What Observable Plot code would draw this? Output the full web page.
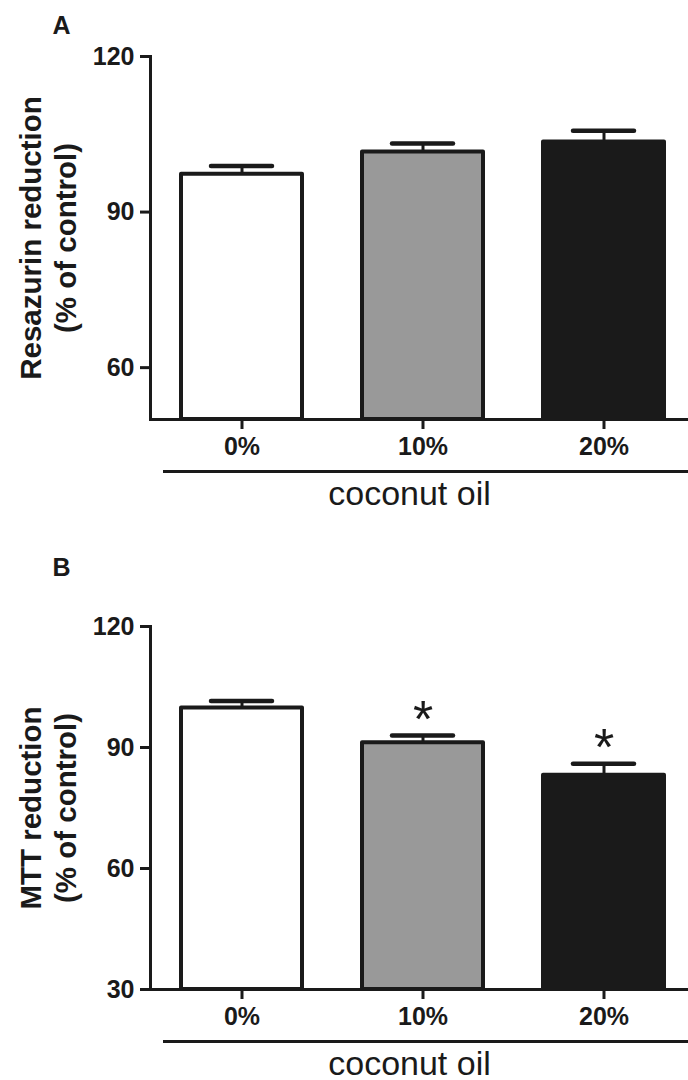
<!DOCTYPE html>
<html><head><meta charset="utf-8">
<script src="https://cdn.jsdelivr.net/npm/d3@7"></script>
<script src="https://cdn.jsdelivr.net/npm/@observablehq/plot@0.6"></script>
<style>body{margin:0;background:#fff} #chart svg{display:block}</style>
</head><body><div id="chart"></div>
<script>
// ---- data ----
const groups = ["0%", "10%", "20%"];
const resazurinMean = [97.3, 101.6, 103.5];
const resazurinSem = [1.6, 1.6, 2.2];
const mttMean = [99.8, 91.2, 83.1];
const mttSem = [1.7, 1.8, 2.9];
const mttSig = ["", "*", "*"];
const resazurinTicks = [60, 90, 120];
const mttTicks = [30, 60, 90, 120];
const resazurinDomain = [50, 120];
const mttDomain = [30, 120];
const groupLabel = "coconut oil";

// ---- styles ----
const INK = "#1a1a1a";
const barFills = ["#ffffff", "#999999", "#1a1a1a"];
const FONT = '"Liberation Sans", Arial, Helvetica, sans-serif';

function panel({letter, title, mean, sem, sig, domain, ticks, height, marginTop, marginBottom, letterDy}) {
  const data = groups.map((g, i) => ({group: g, mean: mean[i], top: mean[i] + sem[i], sig: sig ? sig[i] : "", fill: barFills[i]}));
  return Plot.plot({
    width: 688, height, marginLeft: 150, marginRight: 0, marginTop, marginBottom,
    style: {fontFamily: FONT, fontSize: "25px", fontWeight: "bold", color: INK, background: "#fff"},
    x: {domain: groups, range: [150, 694], paddingInner: 0.333, paddingOuter: 0.165, align: 0.5},
    y: {domain},
    color: {type: "identity"},
    marks: [
      Plot.ruleX(data, {x: "group", y1: "mean", y2: "top", stroke: INK, strokeWidth: 3}),
      Plot.barY(data, {x: "group", y1: domain[0], y2: "mean", fill: "fill", stroke: INK, strokeWidth: 4, strokeLinejoin: "round"}),
      Plot.tickY(data, {x: "group", y: "top", insetLeft: 30, insetRight: 30, stroke: INK, strokeWidth: 4.5, strokeLinecap: "round"}),
      Plot.text(data, {x: "group", y: "top", text: "sig", dy: -15, fontSize: 52, fontWeight: "normal", fill: INK}),
      Plot.frame({anchor: "left", stroke: INK, strokeWidth: 3}),
      Plot.frame({anchor: "bottom", stroke: INK, strokeWidth: 3}),
      Plot.axisY({ticks, tickSize: 10, tickPadding: 6, strokeWidth: 3, label: null, color: INK, fontSize: 25, fontWeight: "bold"}),
      Plot.axisX({tickSize: 10, tickPadding: 8, strokeWidth: 3, label: null, color: INK, fontSize: 25, fontWeight: "bold"}),
      Plot.ruleY([domain[0]], {dy: 52, insetLeft: 13, stroke: INK, strokeWidth: 3}),
      Plot.text([groupLabel], {frameAnchor: "bottom", lineAnchor: "middle", textAnchor: "middle", dx: -10, dy: 75, fontSize: 34, fontWeight: "normal", fill: INK}),
      Plot.text([title], {frameAnchor: "left", lineAnchor: "middle", textAnchor: "middle", rotate: -90, dx: -103, fontSize: 29.5, lineHeight: 1.19, fill: INK}),
      Plot.text([letter], {frameAnchor: "top-left", lineAnchor: "middle", textAnchor: "start", dx: -98, dy: letterDy, fontSize: 25, fill: INK})
    ]
  });
}

const chart = document.getElementById("chart");
chart.append(panel({
  letter: "A", title: "Resazurin reduction\n(% of control)",
  mean: resazurinMean, sem: resazurinSem, sig: null,
  domain: resazurinDomain, ticks: resazurinTicks,
  height: 540, marginTop: 56, marginBottom: 121, letterDy: -31
}));
chart.append(panel({
  letter: "B", title: "MTT reduction\n(% of control)",
  mean: mttMean, sem: mttSem, sig: mttSig,
  domain: mttDomain, ticks: mttTicks,
  height: 540, marginTop: 86, marginBottom: 91, letterDy: -59
}));
</script>
</body></html>
